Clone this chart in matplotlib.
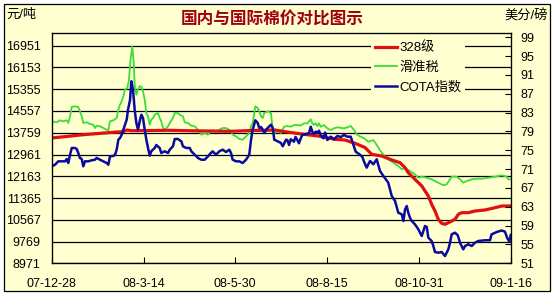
import matplotlib
matplotlib.use('Agg')
import matplotlib.pyplot as plt
from matplotlib.lines import Line2D
from matplotlib.patches import Rectangle

plt.rcParams['font.family'] = ['Liberation Sans', 'Noto Sans CJK SC']

# x axis: days since 2007-12-28
x_ticks = [0, 77, 154, 231, 308, 385]
x_labels = ['07-12-28', '08-3-14', '08-5-30', '08-8-15', '08-10-31', '09-1-16']
left_ticks = [8971, 9769, 10567, 11365, 12163, 12961, 13759, 14557, 15355, 16153, 16951]
right_ticks = [51, 55, 59, 63, 67, 71, 75, 79, 83, 87, 91, 95, 99]

# 328级 (元/吨)
red_day = [0, 26.5, 54.5, 60, 63, 67, 82.5, 99, 116, 132.8, 149.6, 166.4, 179, 187.3,
           195.7, 209.7, 223.6, 237.6, 246, 254.4, 262.8, 268.4, 276.8, 283.8, 288,
           292.2, 296.4, 299.1, 304.7, 310.4, 315.9, 318.7, 321.5, 324.3, 327.1, 329.9,
           332.7, 335.5, 338.3, 341.1, 343.9, 349.4, 355.1, 363.4, 371.8, 377.5, 385]
red_val = [13566, 13687, 13786, 13797, 13859, 13833, 13840, 13848, 13833, 13822, 13811,
           13840, 13848, 13859, 13797, 13712, 13639, 13518, 13492, 13371, 13217, 12968,
           12906, 12785, 12722, 12660, 12477, 12293, 12051, 11806, 11439, 11135, 10889,
           10584, 10438, 10401, 10460, 10522, 10584, 10768, 10827, 10827, 10889, 10926,
           11010, 11072, 11072]

# 滑准税 (元/吨)
green_day = [0, 4.2, 7, 9.7, 12.6, 13.9, 15.4, 16.8, 19.5, 22.3, 23.7, 25.2, 26.5, 29.4,
             32.1, 34.9, 36.3, 37.7, 40.5, 43.3, 46.1, 47.5, 48.9, 51.7, 54.5, 55.9, 57.3,
             58.7, 60.1, 61.5, 63.4, 64.8, 66.1, 67.6, 68.8, 69.6, 71, 72.4, 73.8, 75.2,
             76.6, 78, 79.4, 80.8, 82.2, 83.5, 85, 86.4, 89.2, 90.6, 91.9, 93.4, 94.8,
             97.6, 99, 101.7, 103.2, 105.9, 107.4, 110.1, 111.6, 114.3, 117.1, 119.9,
             122.7, 125.5, 128.3, 131.1, 132.8, 135, 137.8, 140.6, 143.4, 146.2, 149,
             151.8, 154.6, 157.4, 160.2, 163, 165.7, 167.2, 168.6, 170.8, 172.8, 174.1,
             175.6, 177, 178.3, 181.2, 183.9, 185.4, 186.7, 189.6, 192.3, 194.9, 197.6,
             200.5, 203.2, 206, 208.9, 211.6, 214.4, 217.3, 218.6, 220, 221.4, 222.8,
             224.2, 225.6, 228.4, 231.2, 234, 236.8, 239.6, 245.2, 248, 250.8, 253.6,
             256.4, 259.2, 262, 265.6, 269.8, 272.6, 276.8, 282.3, 286.5, 290.7, 293.6,
             296.4, 299.1, 304.7, 307.5, 310.4, 314.6, 318.7, 324.3, 328.5, 331.3, 334.1,
             335.5, 339.7, 342.5, 345.2, 348.1, 352.3, 356.5, 361, 366.2, 371.8, 377.5,
             381.7, 383, 385]
green_val = [14178, 14141, 14215, 14178, 14215, 14116, 14361, 14703, 14728, 14703, 14545,
             14361, 14116, 14141, 14079, 14053, 13932, 14017, 13995, 13932, 13870, 13848,
             14178, 14215, 14299, 14604, 14787, 14912, 15095, 15337, 15399, 15693, 16426,
             16921, 16316, 15520, 15154, 15337, 15462, 15455, 15278, 14970, 14482, 14361,
             14053, 14237, 14299, 14420, 14482, 14299, 14178, 13932, 13870, 13995, 14116,
             14299, 14482, 14482, 14420, 14361, 14141, 14116, 14017, 13995, 13870, 13687,
             13749, 13687, 13775, 13848, 13811, 13870, 13932, 13932, 13870, 13687, 13628,
             13529, 13503, 13628, 13749, 13995, 14116, 14728, 14666, 14545, 14361, 14299,
             14482, 14545, 14482, 13870, 13749, 13811, 13749, 13980, 14006, 13980, 14042,
             14042, 14024, 14105, 14098, 14251, 14105, 14042, 14105, 14006, 14105, 13980,
             14042, 13921, 13859, 13921, 13958, 13921, 13958, 14006, 13859, 13676, 13613,
             13555, 13430, 13492, 13309, 13027, 12785, 12660, 12539, 12418, 12477, 12392,
             12235, 12110, 12147, 12110, 12051, 11927, 11831, 11868, 12051, 12147, 12147,
             12051, 11927, 11989, 12051, 12073, 12073, 12110, 12147, 12198, 12147, 12051,
             12051]

# COTA指数 (美分/磅)
blue_day = [0, 2.8, 5.5, 8.4, 11.2, 12.6, 13.9, 15.4, 16.8, 19.5, 21, 22.3, 23.7, 25.2,
            26.5, 27.9, 30.7, 33.6, 36.3, 37.7, 40.5, 43.3, 46.1, 47.5, 48.9, 51.7, 53.1,
            54.5, 55.9, 57.3, 58.7, 60.1, 62.9, 64, 65.7, 66.8, 68.2, 69.6, 71, 72.4, 73.8,
            75.2, 76.6, 78, 79.4, 80.8, 82.2, 83.5, 86.4, 87.7, 90.6, 91.9, 94.8, 97.6, 99,
            101.7, 103.2, 105.9, 108.7, 110.1, 112.9, 115.8, 117.1, 119.9, 122.7, 125.5,
            128.3, 131.1, 132.2, 135, 137.8, 140.6, 143.4, 146.2, 149, 150.4, 151.8, 154.6,
            157.4, 160.2, 163, 165.7, 167.2, 168.6, 170.8, 172.8, 174.1, 175.6, 177, 178.3,
            179.8, 182.5, 183.9, 185.4, 186.7, 189.6, 192.3, 193.8, 196.5, 197.6, 199.1,
            200.5, 203.2, 204.5, 206, 207.4, 208.9, 210.2, 213.1, 215.8, 217.3, 218.6, 220,
            221.4, 222.8, 224.2, 225.6, 227.8, 229.3, 231.2, 234, 236.8, 239.6, 242.4,
            245.2, 248, 250.8, 252.2, 253.6, 255, 257.8, 260.5, 262, 264.2, 267, 269.8,
            272.6, 275.4, 278.2, 282.3, 285.2, 288, 290.7, 293.6, 295, 296.4, 297.8, 299.1,
            300.5, 302, 304.7, 307.5, 310.4, 313.1, 314.6, 315.9, 318.7, 320.1, 321.5,
            324.3, 327.1, 329.9, 332.7, 334.1, 335.5, 338.3, 340.6, 342.5, 345.2, 346.7,
            349.4, 352.3, 355.1, 357.8, 363.4, 367.6, 369, 373.3, 377.5, 380.2, 382.2,
            383.9, 385]
blue_val = [71.6, 71.94, 72.66, 72.66, 72.66, 73.15, 72.3, 74.07, 75.49, 75.49, 75.28,
            74.43, 73.37, 73.15, 71.6, 72.66, 72.66, 72.88, 73.0, 73.37, 73.0, 72.66, 72.3,
            71.94, 73.73, 73.79, 74.07, 75.13, 77.25, 77.61, 78.31, 79.38, 81.5, 83.62,
            85.69, 89.66, 87.87, 83.62, 80.8, 79.38, 81.16, 82.56, 81.86, 79.38, 77.25,
            75.49, 73.85, 74.79, 75.49, 76.13, 75.49, 74.43, 74.79, 74.43, 75.13, 75.85,
            77.4, 77.4, 76.91, 75.85, 75.49, 75.49, 74.79, 74.07, 73.37, 73.0, 73.0, 73.73,
            74.07, 74.79, 74.07, 74.79, 75.13, 74.64, 75.13, 74.43, 73.0, 72.66, 72.66,
            72.3, 73.0, 74.07, 77.25, 79.38, 81.37, 80.8, 79.74, 79.95, 79.38, 78.68, 79.38,
            80.1, 80.44, 79.74, 77.25, 76.91, 76.55, 75.85, 77.25, 77.19, 76.13, 77.34,
            76.83, 77.83, 77.19, 76.49, 77.55, 78.25, 78.46, 78.61, 80.01, 78.95, 78.46,
            78.95, 78.78, 79.16, 78.25, 77.55, 78.78, 77.19, 77.89, 77.34, 78.04, 77.83,
            78.25, 77.89, 77.89, 76.83, 75.77, 74.7, 74.22, 73.64, 72.58, 71.31, 72.73,
            72.03, 73.09, 70.6, 69.54, 68.12, 65.29, 64.23, 61.75, 61.41, 59.98, 62.47,
            63.17, 61.75, 60.69, 59.98, 59.28, 58.22, 56.8, 58.92, 58.71, 56.44, 55.74,
            54.67, 53.4, 53.25, 53.4, 52.55, 53.97, 55.38, 57.16, 57.5, 56.95, 55.38, 53.97,
            54.67, 55.04, 54.67, 55.38, 55.74, 55.89, 55.89, 57.16, 57.65, 57.97, 57.71,
            56.31, 55.59, 57.01]

bg = '#FFFFD0'
W, H = 555, 296

fig = plt.figure(figsize=(W / 100, H / 100), dpi=100, facecolor='white')
fig.patches.append(Rectangle((4 / W, 1 - 291 / H), 546 / W, 287 / H, transform=fig.transFigure,
                             facecolor=bg, edgecolor='black', lw=0.9, zorder=-5))

ax = fig.add_axes([51.7 / W, 1 - 263.3 / H, 459 / W, 230 / H])
ax.set_facecolor(bg)
ax.plot(green_day, green_val, color='#3ADD3A', lw=1.3)
ax.plot(red_day, red_val, color='#E01010', lw=2.3)
ax.set_xlim(0, 385)
ax.set_ylim(8971, 17406)
ax.set_yticks(left_ticks)
ax.set_xticks(x_ticks)
ax.set_xticklabels(x_labels)
ax.yaxis.grid(True, color='black', lw=0.9)
ax.tick_params(axis='y', length=0, pad=8, labelsize=9)
ax.tick_params(axis='x', direction='in', length=4, pad=10.5, labelsize=9)
for s in ax.spines.values():
    s.set_linewidth(0.9)

ax2 = ax.twinx()
ax2.plot(blue_day, blue_val, color='#0A0AA0', lw=1.8)
ax2.set_ylim(51, 99.85)
ax2.set_yticks(right_ticks)
ax2.tick_params(axis='y', direction='in', length=4, pad=7, labelsize=9)

handles = [Line2D([], [], color='#E01010', lw=2.3),
           Line2D([], [], color='#3ADD3A', lw=1.3),
           Line2D([], [], color='#0A0AA0', lw=1.8)]
leg = ax2.legend(handles, ['328级', '滑准税', 'COTA指数'], loc='upper left',
                 bbox_to_anchor=(371 / W, 1 - 37.5 / H), bbox_transform=fig.transFigure,
                 fontsize=9.5, handlelength=1.7, handletextpad=0.15, labelspacing=0.57,
                 borderpad=0.3, borderaxespad=0, frameon=True, fancybox=False)
leg.get_frame().set_facecolor(bg)
leg.get_frame().set_edgecolor('none')
leg.get_frame().set_alpha(1)

fig.text(272 / W, 1 - 20 / H, '国内与国际棉价对比图示', ha='center', va='center',
         fontsize=12, fontweight='bold', color='#A00010', family=['Noto Sans CJK SC'])
fig.text(6 / W, 1 - 15 / H, '元/吨', ha='left', va='center', fontsize=9.5)
fig.text(548 / W, 1 - 15.5 / H, '美分/磅', ha='right', va='center', fontsize=9.5)

fig.savefig('out.png', dpi=100, facecolor='white')
